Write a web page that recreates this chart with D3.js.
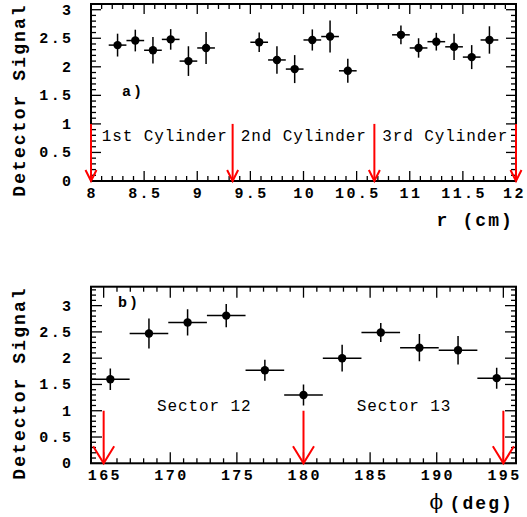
<!DOCTYPE html>
<html><head><meta charset="utf-8">
<script src="https://cdn.jsdelivr.net/npm/d3@7"></script>
<style>
html,body{margin:0;padding:0;background:#fff;}
svg{display:block;}
</style>
</head><body>
<script>
// ---------- data ----------
const rCenters = [8.25, 8.417, 8.583, 8.75, 8.917, 9.083,
                  9.583, 9.75, 9.917, 10.083, 10.25, 10.417,
                  10.917, 11.083, 11.25, 11.417, 11.583, 11.75];
const rSignal  = [2.38, 2.46, 2.29, 2.48, 2.10, 2.33,
                  2.43, 2.12, 1.96, 2.47, 2.53, 1.93,
                  2.56, 2.33, 2.44, 2.35, 2.17, 2.47];
const rError   = [0.20, 0.19, 0.23, 0.18, 0.26, 0.28,
                  0.17, 0.24, 0.245, 0.185, 0.28, 0.21,
                  0.165, 0.17, 0.155, 0.23, 0.21, 0.24];
const rHalfBin = 0.0833;
const rArrows  = [8, 9.333, 10.667, 12];
const rLabels  = [{t:"1st Cylinder", x:8.1},{t:"2nd Cylinder", x:9.41},{t:"3rd Cylinder", x:10.74}];
const rTicks   = [8, 8.5, 9, 9.5, 10, 10.5, 11, 11.5, 12];

const phiCenters = [165.5, 168.4, 171.3, 174.2, 177.1, 180.0, 182.9, 185.8, 188.7, 191.6, 194.5];
const phiSignal  = [1.60, 2.47, 2.68, 2.81, 1.77, 1.30, 2.00, 2.49, 2.20, 2.15, 1.62];
const phiError   = [0.205, 0.285, 0.25, 0.22, 0.20, 0.20, 0.255, 0.18, 0.26, 0.27, 0.20];
const phiHalfBin = 1.45;
const phiArrows  = [165, 180, 195];
const phiLabels  = [{t:"Sector 12", x:169.0},{t:"Sector 13", x:184.0}];
const phiTicks   = [165, 170, 175, 180, 185, 190, 195];

const yTicksA = [0, 0.5, 1, 1.5, 2, 2.5, 3];
const yTicksB = [0, 0.5, 1, 1.5, 2, 2.5, 3];

const W = 527, H = 517;
const svg = d3.select("body").append("svg").attr("width", W).attr("height", H);

const MONO = "'Liberation Mono', 'DejaVu Sans Mono', monospace";

function fmt(v){ return String(+v.toFixed(2)); }

function panel(cfg){
  const x = d3.scaleLinear().domain(cfg.xDomain).range([91, 516]);
  const y = d3.scaleLinear().domain(cfg.yDomain).range([cfg.bottom, cfg.top]);
  const g = svg.append("g");
  const clipId = "clip" + cfg.id;
  svg.append("clipPath").attr("id", clipId).append("rect")
    .attr("x", 91).attr("y", cfg.top).attr("width", 425).attr("height", cfg.bottom - cfg.top);

  const xMinor = d3.range(Math.ceil(cfg.xDomain[0]/cfg.xMinorStep), Math.floor(cfg.xDomain[1]/cfg.xMinorStep+1e-6)+1)
      .map(i => +(i*cfg.xMinorStep).toFixed(4));
  const yMinor = d3.range(0, Math.floor(cfg.yDomain[1]/cfg.yMinorStep+1e-6)+1)
      .map(i => +(i*cfg.yMinorStep).toFixed(4));
  const isMajor = (v, step) => Math.abs(v/step - Math.round(v/step)) < 1e-3;
  const tk = g.append("g").attr("stroke", "#000").attr("stroke-width", 1.3);
  xMinor.forEach(v => {
    const L = isMajor(v, cfg.xMajorStep) ? cfg.xMajLen : cfg.xMinLen;
    const px = x(v);
    tk.append("line").attr("x1", px).attr("x2", px).attr("y1", cfg.bottom).attr("y2", cfg.bottom - L);
    tk.append("line").attr("x1", px).attr("x2", px).attr("y1", cfg.top).attr("y2", cfg.top + L);
  });
  yMinor.forEach(v => {
    const L = isMajor(v, 0.5) ? cfg.yMajLen : cfg.yMinLen;
    const py = y(v);
    tk.append("line").attr("x1", 91).attr("x2", 91 + L).attr("y1", py).attr("y2", py);
    tk.append("line").attr("x1", 516).attr("x2", 516 - L).attr("y1", py).attr("y2", py);
  });

  g.append("rect").attr("x", 91).attr("y", cfg.top).attr("width", 425).attr("height", cfg.bottom - cfg.top)
    .attr("fill", "none").attr("stroke", "#000").attr("stroke-width", 2);

  const lab = g.append("g").attr("font-family", MONO).attr("font-weight", "bold")
    .attr("font-size", 15).attr("letter-spacing", "2.4px").attr("fill", "#000");
  cfg.xTicks.forEach((v, i) => {
    const last = i === cfg.xTicks.length - 1;
    lab.append("text").attr("x", Math.min(x(v) + 1.2, cfg.xLabelMax))
      .attr("y", cfg.bottom + 17).attr("text-anchor", "middle").text(fmt(v));
  });
  cfg.yTicks.forEach(v => {
    lab.append("text").attr("x", 73.5).attr("y", y(v) + 5).attr("text-anchor", "end").text(fmt(v));
  });

  g.append("text").attr("font-family", MONO).attr("font-weight", "bold").attr("font-size", 18)
    .attr("letter-spacing", "2.1px").attr("text-anchor", "middle")
    .attr("transform", `translate(25,${cfg.yTitleC}) rotate(-90)`).text("Detector Signal");

  const dg = g.append("g").attr("clip-path", `url(#${clipId})`);
  cfg.xs.forEach((cx, i) => {
    const v = cfg.ys[i], e = cfg.es[i];
    dg.append("line").attr("x1", x(cx - cfg.half)).attr("x2", x(cx + cfg.half))
      .attr("y1", y(v)).attr("y2", y(v)).attr("stroke", "#000").attr("stroke-width", 1.5);
    dg.append("line").attr("x1", x(cx)).attr("x2", x(cx))
      .attr("y1", y(v - e)).attr("y2", y(v + e)).attr("stroke", "#000").attr("stroke-width", 1.5);
    dg.append("circle").attr("cx", x(cx)).attr("cy", y(v)).attr("r", 4.2).attr("fill", "#000");
  });

  const ag = g.append("g").attr("stroke", "#ff0000").attr("stroke-width", 2).attr("fill", "none");
  cfg.arrows.forEach(a => {
    const px = x(a);
    ag.append("line").attr("x1", px).attr("x2", px).attr("y1", y(1)).attr("y2", y(0));
    ag.append("path").attr("d", `M${px - cfg.ahw},${y(0) - cfg.ahh}L${px},${y(0)}L${px + cfg.ahw},${y(0) - cfg.ahh}`);
  });

  const tg = g.append("g").attr("font-family", MONO).attr("font-size", 16)
    .attr("letter-spacing", "0.9px").attr("fill", "#000");
  cfg.labels.forEach(l => {
    tg.append("text").attr("x", x(l.x)).attr("y", y(cfg.labelY)).text(l.t);
  });
  g.append("text").attr("font-family", MONO).attr("font-weight", "bold").attr("font-size", 15)
    .attr("letter-spacing", "2px").attr("x", cfg.tagX).attr("y", cfg.tagY).text(cfg.tag);
  return {x, y, g};
}

const A = panel({
  id: "a", xDomain: [8, 12], yDomain: [0, 3.1], top: 4, bottom: 181,
  xMinorStep: 0.1, xMajorStep: 0.5, yMinorStep: 0.1,
  xMajLen: 10, xMinLen: 5, yMajLen: 10, yMinLen: 5,
  xTicks: rTicks, yTicks: yTicksA, yTitleC: 100, xLabelMax: 514.5,
  xs: rCenters, ys: rSignal, es: rError, half: rHalfBin,
  arrows: rArrows, ahw: 5.5, ahh: 11,
  labels: rLabels, labelY: 0.7, tag: "a)", tagX: 122, tagY: 96
});
A.g.append("text").attr("font-family", MONO).attr("font-weight", "bold").attr("font-size", 18)
  .attr("letter-spacing", "2.1px").attr("text-anchor", "end").attr("x", 514).attr("y", 226).text("r (cm)");

const B = panel({
  id: "b", xDomain: [164.05, 195.95], yDomain: [0, 3.36], top: 286.7, bottom: 463.3,
  xMinorStep: 1, xMajorStep: 5, yMinorStep: 0.1,
  xMajLen: 11, xMinLen: 5, yMajLen: 11, yMinLen: 5,
  xTicks: phiTicks, yTicks: yTicksB, yTitleC: 383, xLabelMax: 512,
  xs: phiCenters, ys: phiSignal, es: phiError, half: phiHalfBin,
  arrows: phiArrows, ahw: 10.5, ahh: 17,
  labels: phiLabels, labelY: 1.0, tag: "b)", tagX: 118, tagY: 307
});
const pt = B.g.append("text").attr("text-anchor", "end").attr("x", 514).attr("y", 509);
pt.append("tspan").attr("font-family", "'DejaVu Serif', serif").attr("font-size", 20).text("\u03D5 ");
pt.append("tspan").attr("font-family", MONO).attr("font-weight", "bold").attr("font-size", 18)
  .attr("letter-spacing", "2.1px").text("(deg)");
</script>
</body></html>
